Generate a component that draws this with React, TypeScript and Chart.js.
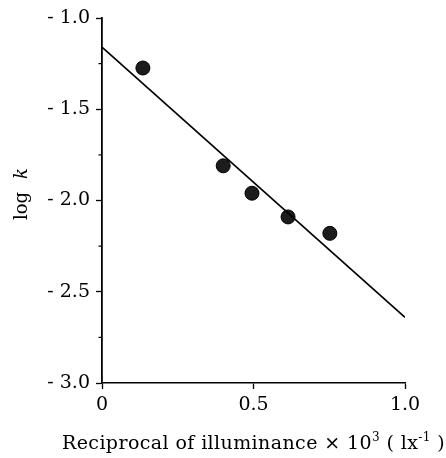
import React, { useEffect, useRef } from 'react';
import { Chart, registerables } from 'chart.js';

Chart.register(...registerables);

// ---- data ----
const pointX = [0.135, 0.4, 0.495, 0.614, 0.752];
const pointY = [-1.274, -1.81, -1.96, -2.09, -2.18];
const fitX = [0, 1.0];
const fitY = [-1.16, -2.64];
const xTicks = [0, 0.5, 1.0];
const yTicks = [-1.0, -1.5, -2.0, -2.5, -3.0];
const yMinorTicks = [-1.25, -1.75, -2.25, -2.75];
const yTitleNormal = 'log';
const yTitleItalic = 'k';
const xTitleParts: { t: string; sup: boolean }[] = [
  { t: 'Reciprocal of illuminance \u00d7 10', sup: false },
  { t: '3', sup: true },
  { t: ' ( lx', sup: false },
  { t: '-1', sup: true },
  { t: ' )', sup: false },
];

const FAMILY = '"DejaVu Serif", "Liberation Serif", serif';

const titlesPlugin = {
  id: 'titlesPlugin',
  afterDraw(chart: any) {
    const ctx = chart.ctx as any;
    const area = chart.chartArea;
    const yScale = chart.scales.y;
    ctx.save();
    // minor ticks on y
    ctx.strokeStyle = '#000';
    ctx.lineWidth = 1.2;
    yMinorTicks.forEach((v) => {
      const py = yScale.getPixelForValue(v);
      ctx.beginPath();
      ctx.moveTo(area.left - 3.5, py);
      ctx.lineTo(area.left, py);
      ctx.stroke();
    });
    // y title
    ctx.fillStyle = '#000';
    ctx.textBaseline = 'alphabetic';
    const fN = `18px ${FAMILY}`;
    const fI = `italic 18px ${FAMILY}`;
    const gap = 13;
    ctx.font = fN;
    const wN = ctx.measureText(yTitleNormal).width;
    ctx.font = fI;
    const wI = ctx.measureText(yTitleItalic).width;
    const tot = wN + gap + wI;
    ctx.translate(27, 194);
    ctx.rotate(-Math.PI / 2);
    ctx.textAlign = 'left';
    ctx.font = fN;
    ctx.fillText(yTitleNormal, -tot / 2, 0);
    ctx.font = fI;
    ctx.fillText(yTitleItalic, -tot / 2 + wN + gap, 0);
    ctx.setTransform(1, 0, 0, 1, 0, 0);
    // x title
    const fMain = `19px ${FAMILY}`;
    const fSup = `12px ${FAMILY}`;
    ctx.textBaseline = 'alphabetic';
    ctx.textAlign = 'left';
    ctx.letterSpacing = '0.4px';
    let total = 0;
    const widths = xTitleParts.map((p) => {
      ctx.font = p.sup ? fSup : fMain;
      const w = ctx.measureText(p.t).width;
      total += w;
      return w;
    });
    let x = (area.left + area.right) / 2 - total / 2;
    const base = 449;
    xTitleParts.forEach((p, i) => {
      ctx.font = p.sup ? fSup : fMain;
      ctx.fillText(p.t, x, p.sup ? base - 8 : base);
      x += widths[i];
    });
    ctx.restore();
  },
};

export default function App() {
  const ref = useRef<HTMLCanvasElement | null>(null);
  useEffect(() => {
    if (!ref.current) return;
    const chart = new Chart(ref.current, {
      type: 'scatter',
      data: {
        datasets: [
          {
            label: 'fit',
            data: fitX.map((x, i) => ({ x, y: fitY[i] })),
            showLine: true,
            borderColor: '#000',
            borderWidth: 1.6,
            pointRadius: 0,
            fill: false,
          },
          {
            label: 'log k',
            data: pointX.map((x, i) => ({ x, y: pointY[i] })),
            backgroundColor: '#1c1c1c',
            borderColor: '#000',
            borderWidth: 1,
            pointRadius: 7,
          },
        ],
      },
      options: {
        animation: false,
        responsive: true,
        maintainAspectRatio: false,
        layout: { padding: { top: 18, right: 41, left: 0, bottom: 0 } },
        plugins: { legend: { display: false }, tooltip: { enabled: false } },
        scales: {
          x: {
            type: 'linear',
            min: 0,
            max: 1,
            afterBuildTicks: (s: any) => {
              s.ticks = xTicks.map((v) => ({ value: v }));
            },
            afterFit: (s: any) => {
              s.height = 75;
            },
            grid: {
              display: true,
              drawOnChartArea: false,
              drawTicks: true,
              tickLength: 6,
              tickColor: '#000',
              tickWidth: 1.3,
            },
            border: { display: true, color: '#000', width: 1.5 },
            ticks: {
              color: '#000',
              padding: 5,
              maxRotation: 0,
              font: { family: FAMILY, size: 19 },
              callback: (v: any) => (Number(v) === 0 ? '0' : Number(v).toFixed(1)),
            },
          },
          y: {
            type: 'linear',
            min: -3,
            max: -1,
            afterBuildTicks: (s: any) => {
              s.ticks = yTicks.map((v) => ({ value: v }));
            },
            afterFit: (s: any) => {
              s.width = 102;
            },
            grid: {
              display: true,
              drawOnChartArea: false,
              drawTicks: true,
              tickLength: 6,
              tickColor: '#000',
              tickWidth: 1.3,
            },
            border: { display: true, color: '#000', width: 1.8 },
            ticks: {
              color: '#000',
              padding: 6,
              font: { family: FAMILY, size: 19 },
              callback: (v: any) => '- ' + Math.abs(Number(v)).toFixed(1),
            },
          },
        },
      },
      plugins: [titlesPlugin],
    });
    return () => chart.destroy();
  }, []);
  return (
    <div style={{ position: 'absolute', left: 0, top: 0, width: 446, height: 458, background: '#fff' }}>
      <canvas ref={ref} />
    </div>
  );
}
